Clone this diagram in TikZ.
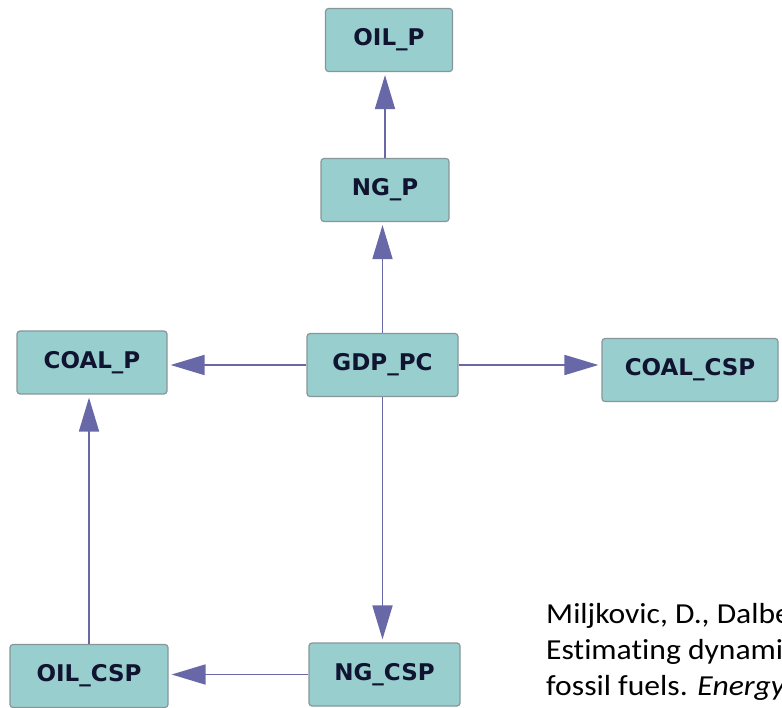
\documentclass[tikz,border=0pt]{standalone}
\usepackage{fontspec}
\usetikzlibrary{arrows.meta}
\newfontfamily\boxfont{DejaVu Sans}
\newfontfamily\citefont[Ligatures=NoCommon]{Carlito}
\definecolor{boxfill}{RGB}{153,206,206}
\definecolor{boxline}{RGB}{135,150,152}
\definecolor{boxtext}{RGB}{16,20,48}
\definecolor{edgecol}{RGB}{104,104,168}
\begin{document}
\begin{tikzpicture}[x=1pt,y=-1pt,
  var/.style={draw=boxline, line width=1.2pt, fill=boxfill, rounded corners=3pt,
    minimum height=63pt, inner sep=0pt, text=boxtext,
    font=\boxfont\bfseries\fontsize{23}{27}\selectfont},
  link/.style={draw=edgecol, line width=1.8pt,
    -{Triangle[length=34pt,width=20pt]}, shorten >=3pt},
  cite/.style={anchor=base west, inner sep=0pt, text=black,
    xscale=1.09, transform shape,
    font=\citefont\fontsize{29}{35}\selectfont}]
  \clip (0,0) rectangle (782,708);
  \useasboundingbox (0,0) rectangle (782,708);

  % variables
  \node[var, minimum width=127pt] (oilp)   at (389,40)    {OIL\_P};
  \node[var, minimum width=128pt] (ngp)    at (385,190)   {NG\_P};
  \node[var, minimum width=151pt] (gdp)    at (382.5,365) {GDP\_PC};
  \node[var, minimum width=150pt] (coalp)  at (92,362.5)  {COAL\_P};
  \node[var, minimum width=176pt] (coalcsp) at (690,370)  {COAL\_CSP};
  \node[var, minimum width=158pt] (oilcsp) at (89,676)    {OIL\_CSP};
  \node[var, minimum width=151pt] (ngcsp)  at (384.5,674.5) {NG\_CSP};

  % causal links
  \draw[link] (ngp.north) -- (ngp.north |- oilp.south);
  \draw[link] (gdp.north) -- (gdp.north |- ngp.south);
  \draw[link] (gdp.west) -- (gdp.west -| coalp.east);
  \draw[link] (gdp.east) -- (gdp.east -| coalcsp.west);
  \draw[link] (gdp.south) -- (gdp.south |- ngcsp.north);
  \draw[link] (ngcsp.west) -- (ngcsp.west -| oilcsp.east);
  \draw[link] (oilcsp.north) -- (oilcsp.north |- coalp.south);

  % reference
  \node[cite] (cite1) at (546,623) {Miljkovic, D., Dalbe};
  \node[cite] (cite2) at (546,659) {Estimating dynami};
  \node[cite] (cite3) at (546,695) {fossil fuels. \textit{Energy}};
\end{tikzpicture}
\end{document}
